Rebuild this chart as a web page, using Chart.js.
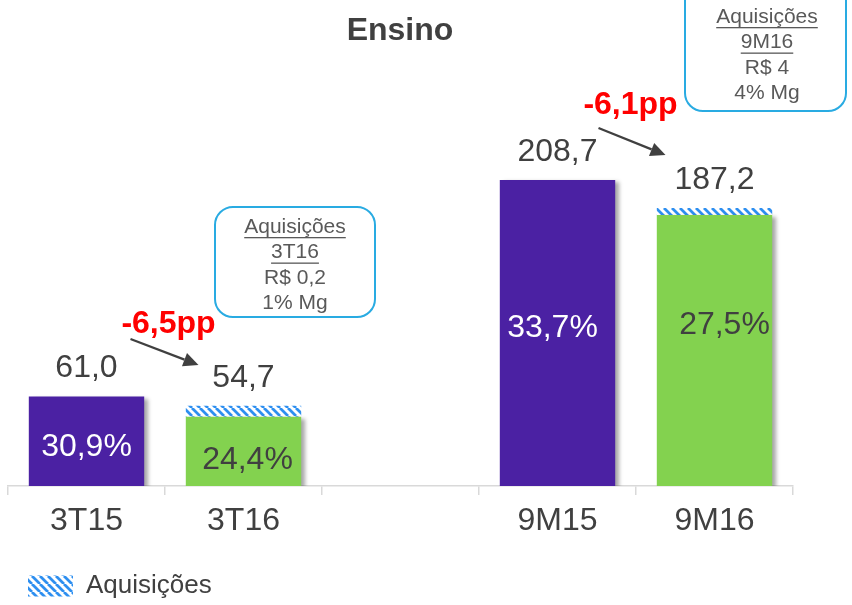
<!DOCTYPE html>
<html lang="pt">
<head>
  <meta charset="UTF-8">
  <title>Ensino</title>
  <script src="https://cdn.jsdelivr.net/npm/chart.js"></script>
  <style>
    html, body { margin: 0; padding: 0; background: #fff; }
    #wrap { width: 852px; height: 605px; position: relative; }
  </style>
</head>
<body>
  <div id="wrap"><canvas id="chart" width="852" height="605"></canvas></div>

  <script>
    // data
    const categories = ['3T15', '3T16', '', '9M15', '9M16'];
    const purpleValues = [61.0, null, null, 208.7, null];
    const greenValues = [null, 47.2, null, null, 184.8];
    const acqValues = [null, 7.5, null, null, 4.8];
    const totalLabels = ['61,0', '54,7', '', '208,7', '187,2'];
    const marginLabels = ['30,9%', '24,4%', '', '33,7%', '27,5%'];
    const ppLabels = ['-6,5pp', '-6,1pp'];
    const boxTexts = [
      ['Aquisições', '3T16', 'R$ 0,2', '1% Mg'],
      ['Aquisições', '9M16', 'R$ 4', '4% Mg']
    ];

    const FONT = '"Liberation Sans", Arial, sans-serif';
    const GREY = '#404040';
    const PURPLE = '#4B21A3';
    const GREEN = '#83D24F';

    function hatch() {
      const c = document.createElement('canvas');
      c.width = 8; c.height = 8;
      const g = c.getContext('2d');
      g.fillStyle = '#fff';
      g.fillRect(0, 0, 8, 8);
      g.strokeStyle = '#2E8FF0';
      g.lineWidth = 2.8;
      g.beginPath();
      for (let k = -8; k <= 16; k += 8) {
        g.moveTo(k, 0); g.lineTo(k + 8, 8);
      }
      g.stroke();
      return g.createPattern(c, 'repeat');
    }
    const hatchFill = hatch();

    function arrow(ctx, x1, y1, x2, y2) {
      const a = Math.atan2(y2 - y1, x2 - x1);
      const hl = 15, hw = 7;
      const bx = x2 - hl * Math.cos(a), by = y2 - hl * Math.sin(a);
      ctx.strokeStyle = '#404040';
      ctx.fillStyle = '#404040';
      ctx.lineWidth = 2.2;
      ctx.beginPath(); ctx.moveTo(x1, y1); ctx.lineTo(bx, by); ctx.stroke();
      ctx.beginPath();
      ctx.moveTo(x2, y2);
      ctx.lineTo(bx + hw * Math.sin(a), by - hw * Math.cos(a));
      ctx.lineTo(bx - hw * Math.sin(a), by + hw * Math.cos(a));
      ctx.closePath(); ctx.fill();
    }

    function callout(ctx, x, y, w, h, lines, cx, y0) {
      ctx.strokeStyle = '#29ABE2';
      ctx.lineWidth = 2;
      ctx.beginPath();
      ctx.roundRect(x, y, w, h, 18);
      ctx.stroke();
      ctx.font = '21px ' + FONT;
      ctx.fillStyle = '#595959';
      ctx.textAlign = 'center';
      ctx.textBaseline = 'middle';
      lines.forEach((t, i) => {
        const ty = y0 + i * 25.5;
        ctx.fillText(t, cx, ty);
        if (i < 2) {
          const tw = ctx.measureText(t).width;
          ctx.fillRect(cx - tw / 2, ty + 10, tw, 1.3);
        }
      });
    }

    const shadowPlugin = {
      id: 'shadow',
      beforeDatasetDraw(chart, args) {
        const ctx = chart.ctx;
        ctx.save();
        if (args.index < 2) {
          ctx.shadowColor = 'rgba(0,0,0,0.35)';
          ctx.shadowOffsetX = 4;
          ctx.shadowOffsetY = 2;
          ctx.shadowBlur = 4;
        }
      },
      afterDatasetDraw(chart) { chart.ctx.restore(); }
    };

    const extras = {
      id: 'extras',
      afterDraw(chart) {
        const ctx = chart.ctx;
        const xs = chart.scales.x, ys = chart.scales.y;
        ctx.save();
        ctx.textAlign = 'center';
        ctx.textBaseline = 'middle';

        // title
        ctx.font = 'bold 32px ' + FONT;
        ctx.fillStyle = GREY;
        ctx.fillText('Ensino', 400, 31);

        // totals over bars
        ctx.font = '32px ' + FONT;
        categories.forEach((c, i) => {
          if (!totalLabels[i]) return;
          const top = (purpleValues[i] || 0) + (greenValues[i] || 0) + (acqValues[i] || 0);
          ctx.fillStyle = GREY;
          ctx.fillText(totalLabels[i], xs.getPixelForValue(i), ys.getPixelForValue(top) - 28);
        });

        // margins inside bars
        const mPos = [[0, 26.6], [4, 17.7], [0, 0], [-5, 107.8], [10, 110]];
        categories.forEach((c, i) => {
          if (!marginLabels[i]) return;
          ctx.fillStyle = purpleValues[i] ? '#fff' : GREY;
          ctx.fillText(marginLabels[i], xs.getPixelForValue(i) + mPos[i][0], ys.getPixelForValue(mPos[i][1]));
        });

        // pp change labels and arrows
        ctx.font = 'bold 32px ' + FONT;
        ctx.fillStyle = '#FF0000';
        const x0 = xs.getPixelForValue(0), x3 = xs.getPixelForValue(3);
        ctx.fillText(ppLabels[0], x0 + 82, 324);
        ctx.fillText(ppLabels[1], x3 + 73, 105);
        arrow(ctx, x0 + 44, 339, x0 + 112, 365);
        arrow(ctx, x3 + 41, 128, x3 + 108, 155);

        // callouts
        callout(ctx, 215, 207, 160, 110, boxTexts[0], 295, 227);
        callout(ctx, 685, -20, 161, 131, boxTexts[1], 767, 17);
        ctx.restore();
      }
    };

    new Chart(document.getElementById('chart'), {
      type: 'bar',
      data: {
        labels: categories,
        datasets: [
          { label: 'purple', data: purpleValues, backgroundColor: PURPLE },
          { label: 'green', data: greenValues, backgroundColor: GREEN },
          { label: 'Aquisições', data: acqValues, backgroundColor: hatchFill }
        ]
      },
      options: {
        responsive: false,
        animation: false,
        layout: { padding: { left: 8, right: 59, top: 0, bottom: 0 } },
        datasets: { bar: { categoryPercentage: 1, barPercentage: 0.735 } },
        plugins: {
          title: { display: false },
          tooltip: { enabled: false },
          legend: {
            position: 'bottom',
            align: 'start',
            maxHeight: 52,
            labels: {
              filter: item => item.datasetIndex === 2,
              boxWidth: 45,
              boxHeight: 21,
              padding: 20,
              color: GREY,
              font: { family: FONT, size: 26 }
            }
          }
        },
        scales: {
          x: {
            stacked: true,
            border: { color: '#D9D9D9', width: 1.5 },
            grid: { offset: true, drawOnChartArea: false, color: '#D9D9D9', tickLength: 9, lineWidth: 1.5 },
            ticks: { color: GREY, padding: 7, font: { family: FONT, size: 32 } },
            afterFit: s => { s.height = 67; }
          },
          y: {
            stacked: true,
            display: false,
            min: 0,
            max: 331.5
          }
        }
      },
      plugins: [shadowPlugin, extras]
    });
  </script>
</body>
</html>
